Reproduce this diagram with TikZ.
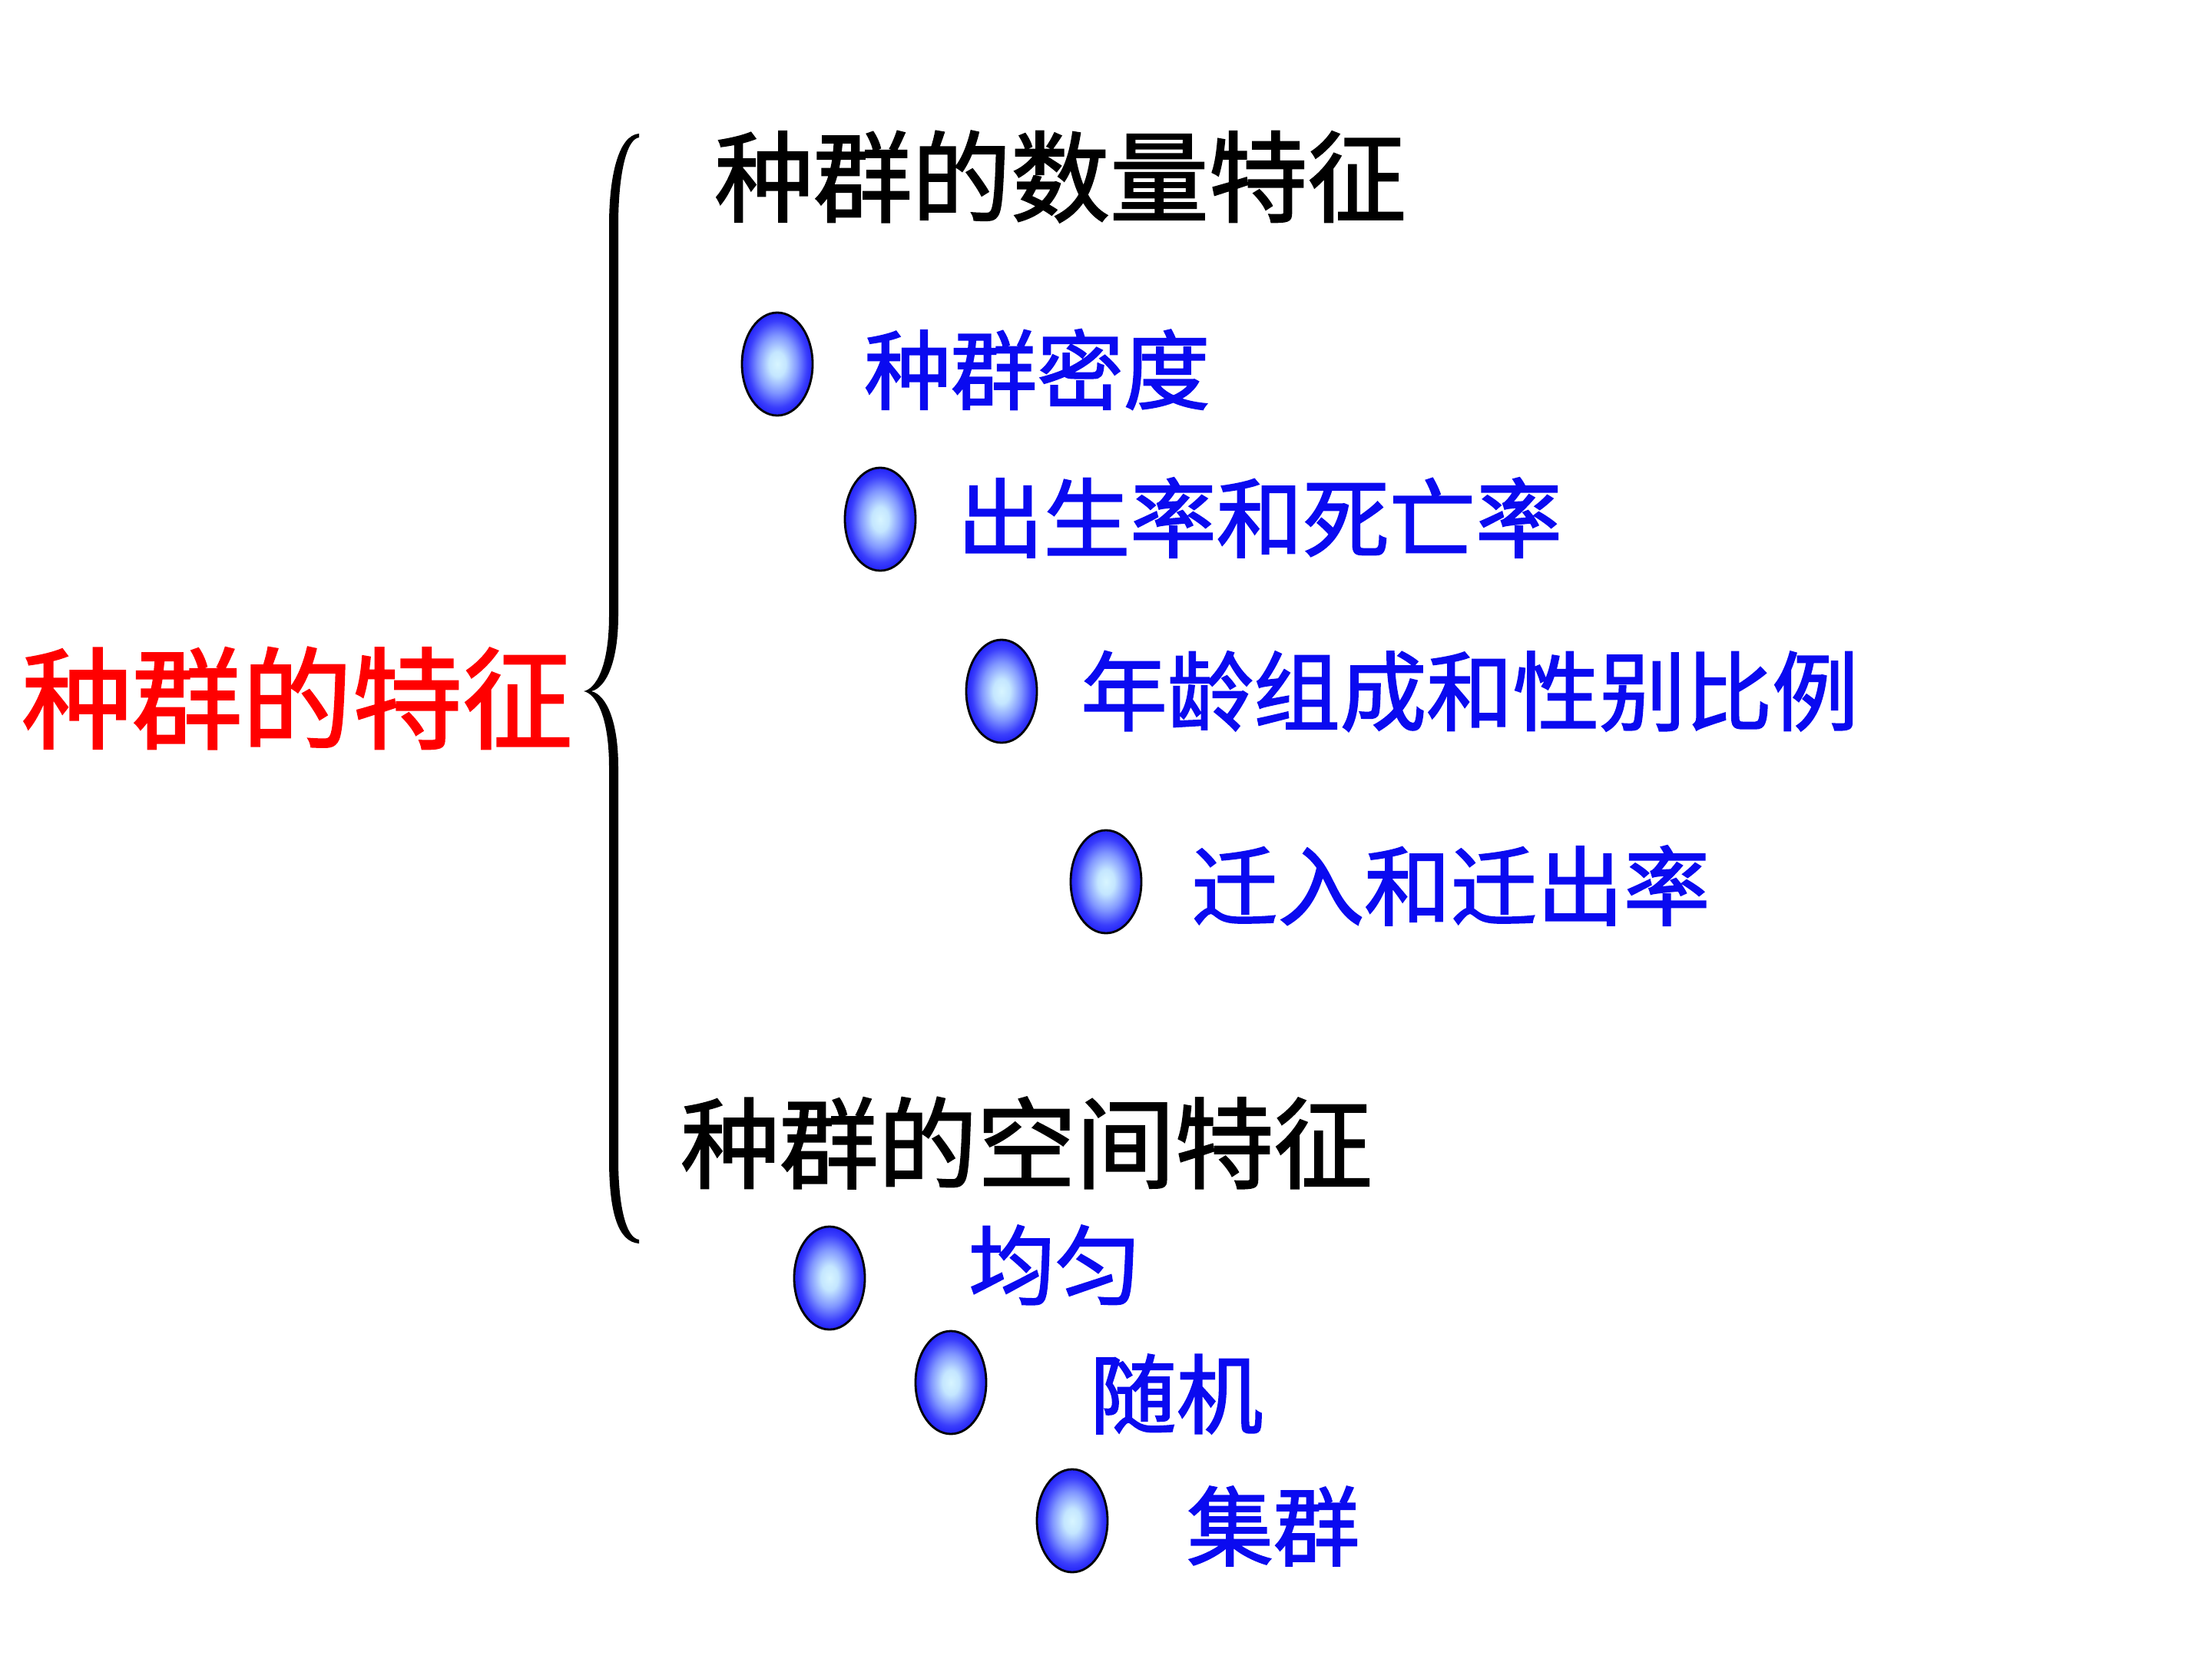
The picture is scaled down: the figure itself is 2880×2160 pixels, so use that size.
\documentclass[tikz,border=0pt]{standalone}
\usepackage{fontspec}
\setmainfont{Noto Sans CJK SC}
\newcommand\heavytxt[2]{\special{pdf:literal direct #1 w 2 Tr}#2\special{pdf:literal direct 0 Tr}}
\usetikzlibrary{shapes.geometric}
\definecolor{txtblue}{RGB}{10,10,240}
\pgfdeclareradialshading{bulshade}{\pgfpoint{0bp}{0bp}}{%
  color(0bp)=(rgb,255:red,215;green,245;blue,255);
  color(6bp)=(rgb,255:red,196;green,230;blue,255);
  color(14bp)=(rgb,255:red,128;green,150;blue,255);
  color(21bp)=(rgb,255:red,58;green,62;blue,252);
  color(25bp)=(rgb,255:red,35;green,35;blue,248);
  color(50bp)=(rgb,255:red,35;green,35;blue,248)}
\tikzset{
  bigred/.style={anchor=west,inner sep=0pt,text=red,font=\fontsize{102}{110}\selectfont},
  head/.style={anchor=west,inner sep=0pt,text=black,font=\fontsize{91.5}{100}\selectfont},
  item/.style={anchor=west,inner sep=0pt,text=txtblue,font=\fontsize{80}{88}\selectfont},
  bullet/.style={ellipse,minimum width=2.3cm,minimum height=3.35cm,inner sep=0pt,
    draw=black,line width=2pt,shading=bulshade}
}
\begin{document}
\begin{tikzpicture}[x=0.025cm,y=-0.025cm]
\useasboundingbox (0,0) rectangle (2880,2160);
% main title
\node[bigred] (main) at (28,909) {\heavytxt{1.8}{种群的特征}};
% brace
\fill[black] (832,174) .. controls (805,176) and (793,230) .. (793,293)
  -- (793,801) .. controls (793,870) and (775,897) .. (760,900)
  .. controls (775,903) and (793,930) .. (793,999)
  -- (793,1509) .. controls (793,1580) and (805,1617) .. (832,1619)
  -- (832,1614) .. controls (815,1612) and (805,1570) .. (805,1509)
  -- (805,999) .. controls (805,940) and (790,905) .. (770,900)
  .. controls (790,895) and (805,860) .. (805,801)
  -- (805,293) .. controls (805,230) and (815,181) .. (832,179) -- cycle;
% headings
\node[head] (quant) at (930,230) {\heavytxt{1.6}{种群的数量特征}};
\node[head] (space) at (886,1488) {\heavytxt{1.6}{种群的空间特征}};
% bullets
\node[bullet] (b1) at (1012,474) {};
\node[bullet] (b2) at (1146,676) {};
\node[bullet] (b3) at (1304,900) {};
\node[bullet] (b4) at (1440,1148) {};
\node[bullet] (b5) at (1080,1664) {};
\node[bullet] (b6) at (1238,1800) {};
\node[bullet] (b7) at (1396,1980) {};
% items
\node[item] (t1) at (1125,481) {\heavytxt{1.4}{种群密度}};
\node[item] (t2) at (1246,674) {\heavytxt{1.4}{出生率和死亡率}};
\node[item] (t3) at (1407,900) {\heavytxt{1.4}{年龄组成和性别比例}};
\node[item] (t4) at (1551,1153) {\heavytxt{1.4}{迁入和迁出率}};
\node[item] (t5) at (1261,1647) {\heavytxt{1.4}{均匀}};
\node[item] (t6) at (1419,1815) {\heavytxt{1.4}{随机}};
\node[item] (t7) at (1545,1987) {\heavytxt{1.4}{集群}};
\end{tikzpicture}
\end{document}
